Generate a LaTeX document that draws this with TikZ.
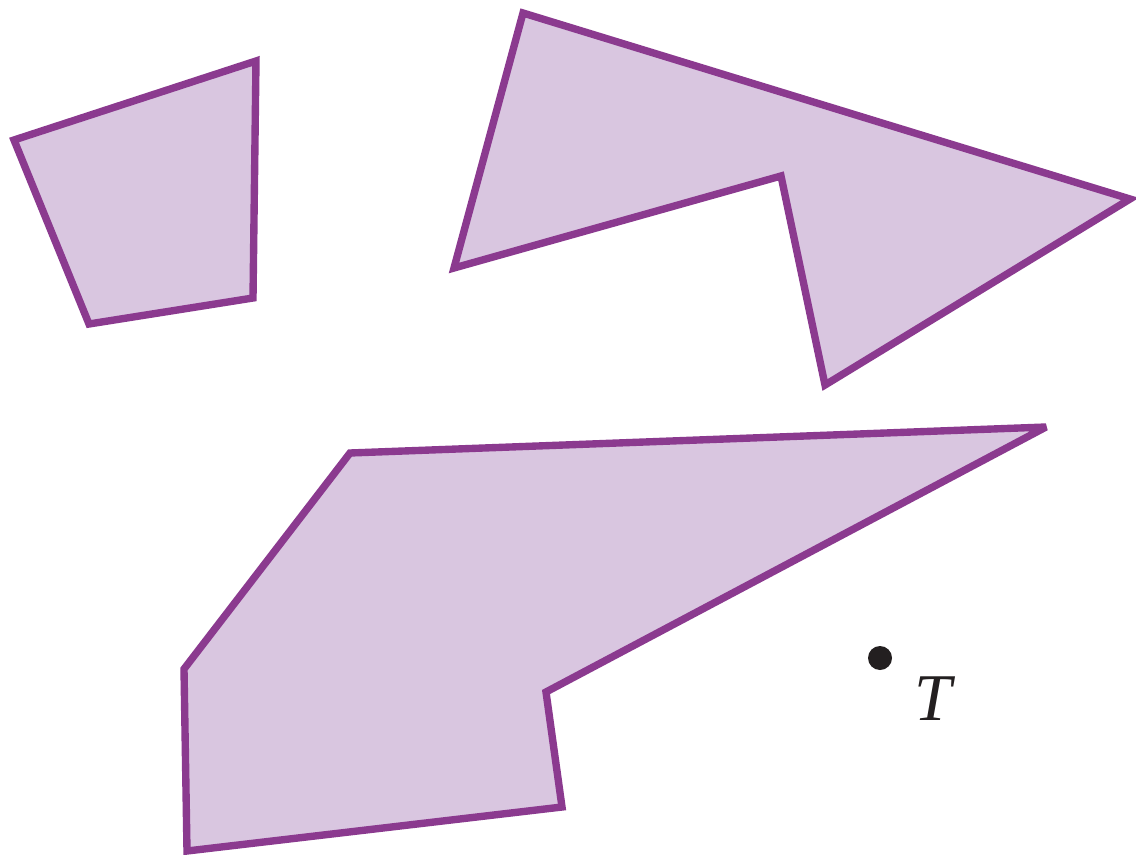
\documentclass[tikz,border=0pt]{standalone}
\usepackage{fontspec}
\setmainfont{Liberation Serif}
\definecolor{edge}{HTML}{8B3A8F}
\definecolor{fillc}{HTML}{D9C6E0}
\definecolor{dotc}{HTML}{231F20}
\begin{document}
\begin{tikzpicture}[x=0.02cm,y=-0.02cm,
  poly/.style={draw=edge,fill=fillc,line width=4.2pt,line join=miter,miter limit=4}]
\useasboundingbox (0,0) rectangle (1136,855);
\path[poly] (14,140) -- (256,61) -- (253,298) -- (89,324) -- cycle;
\path[poly] (523,13) -- (1130,199) -- (825,385) -- (781,176) -- (454,268) -- cycle;
\path[poly] (350,453) -- (1046,427) -- (546,692) -- (562,807) -- (187,851) -- (184,669) -- cycle;
\fill[dotc] (880,658) circle[radius=12];
\node[text=dotc,inner sep=0pt,anchor=base] (t) at (933,720) {\fontsize{38}{40}\selectfont\itshape T};
\end{tikzpicture}
\end{document}
